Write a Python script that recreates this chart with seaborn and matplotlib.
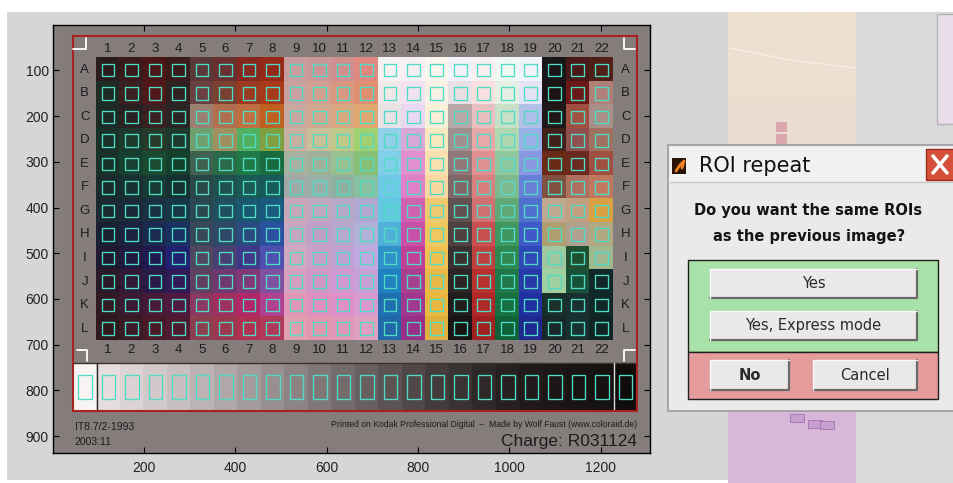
import numpy as np
import pandas as pd
import matplotlib
matplotlib.use('Agg')
import matplotlib.pyplot as plt
import matplotlib.colors as mcolors
from matplotlib.patches import Rectangle
import seaborn as sns

# ---- data -------------------------------------------------------------------
col_labels = [str(i) for i in range(1, 23)]
row_labels = list('ABCDEFGHIJKL')
x_ticks = [200, 400, 600, 800, 1000, 1200]
y_ticks = [100, 200, 300, 400, 500, 600, 700, 800, 900]

row_A = ['#2a1c1c', '#3a1a1a', '#4a1616', '#3a1a1a', '#5a3838', '#6a3030', '#862820', '#962818',
         '#c89c9c', '#c89898', '#d09090', '#e08880', '#f6f2f2', '#f6f0f4', '#faf6ee', '#f2f2f8',
         '#f8f0f0', '#f0f8f4', '#f0f4fa', '#181616', '#4a1818', '#502018']
row_B = ['#1e2a24', '#3a2020', '#501818', '#302020', '#6a4040', '#7a4030', '#9a3a20', '#a83a1a',
         '#c8a0a0', '#d0a090', '#d89880', '#e09070', '#f0e8e8', '#f0e2ee', '#f8f0e4', '#e8e0e4',
         '#f8e0e0', '#e4f0e4', '#e4e4f6', '#1c1414', '#6a1818', '#b08078']
row_C = ['#1c2a26', '#2a2222', '#3a2020', '#2a2424', '#9a8070', '#b07050', '#c07040', '#c06020',
         '#c8a8a0', '#d0a890', '#d8a880', '#e0a870', '#e8e2e4', '#e8d8f0', '#f8f0d8', '#b8a8a8',
         '#e8c0c0', '#c8e0c8', '#b0c0e8', '#201818', '#a05040', '#a89088']
row_D = ['#183028', '#1e3a2c', '#2a3a2a', '#1e3a2e', '#70a070', '#a09060', '#50b060', '#80a040',
         '#c8b0a0', '#c8c098', '#c0c888', '#a0d070', '#90d0e8', '#d8a8d8', '#f8e8c0', '#a09090',
         '#e8a8a8', '#b0d8b0', '#98b0e8', '#402018', '#905050', '#a07060']
row_E = ['#183228', '#184030', '#1a4a30', '#14402c', '#406050', '#2a6a48', '#207a48', '#1a6a40',
         '#a8b0a0', '#a0b098', '#98c090', '#88c078', '#80d0e8', '#e090d0', '#f8e0b0', '#907878',
         '#e09090', '#90c8a0', '#8898e0', '#6a2a18', '#6a2a20', '#a05040']
row_F = ['#1a2a2a', '#183030', '#183a34', '#163030', '#2a4848', '#205050', '#1a5a54', '#185a5a',
         '#a0a8a8', '#98b0a8', '#90b0a0', '#88c0a0', '#70c8e8', '#e080c8', '#f8d8a0', '#806868',
         '#d88080', '#80b890', '#6880d8', '#805040', '#b07060', '#c07860']
row_G = ['#1a2a30', '#1a2a38', '#183040', '#183848', '#2a4850', '#205060', '#1a5870', '#1a5a80',
         '#c8a8b8', '#c0a8c0', '#b8a8c8', '#b0a8d0', '#60c8e0', '#d060b0', '#f0c870', '#605050',
         '#d07070', '#60a878', '#5070d0', '#c0a890', '#c0a080', '#d8a040']
row_H = ['#1a2030', '#1a2240', '#1a2a50', '#1a3060', '#384858', '#304868', '#2a4a80', '#2a50a0',
         '#c8a8c0', '#c0a0c8', '#b8a8d0', '#b0b0d8', '#50b0d8', '#c850a8', '#f0c860', '#504040',
         '#c85050', '#409860', '#4058c8', '#b0a070', '#b0a090', '#b0a880']
row_I = ['#201a30', '#201a40', '#201a50', '#222070', '#504860', '#484070', '#403888', '#5050b0',
         '#d0a8c0', '#c8a0c8', '#c0a0d0', '#c0a8e0', '#3090c8', '#c04098', '#f0c050', '#3a3030',
         '#c04040', '#308850', '#3048b8', '#a0c8a0', '#205030', '#a0b890']
row_J = ['#2a1a28', '#301a38', '#2a1a48', '#301a58', '#604060', '#703870', '#803878', '#8050a0',
         '#d8a0c0', '#d098c8', '#d098d0', '#c8a0d8', '#2080c0', '#a84090', '#e8b848', '#2a2424',
         '#b83030', '#207848', '#2838a8', '#a0d0a0', '#185038', '#102828']
row_K = ['#301a24', '#3a1a30', '#481a38', '#501a40', '#8a3860', '#a03060', '#b02868', '#b04090',
         '#e098b8', '#e090c0', '#e090c8', '#d898d0', '#2070b0', '#a03890', '#e8b840', '#201c1c',
         '#b02828', '#187040', '#2030a0', '#183028', '#1a3030', '#102828']
row_L = ['#301a20', '#3a1a24', '#4a1a28', '#501a30', '#8a4050', '#9a3850', '#b03050', '#b03858',
         '#e0a0b0', '#e098b0', '#e098b8', '#e0a0c0', '#2068a8', '#983088', '#e0b040', '#181414',
         '#a02020', '#106038', '#202890', '#182828', '#183030', '#102424']

gray_steps = ['#f8f4f4', '#e6dede', '#dcd4d4', '#d2caca', '#c8c0c0', '#bcb4b4', '#b0a8a8', '#a49c9c',
              '#989090', '#8c8484', '#807878', '#746c6c', '#686060', '#5c5454', '#504848', '#443c3c',
              '#383232', '#2e2828', '#262020', '#201a1a', '#1c1616', '#181414', '#161212', '#100c0c']

# ---- layout of the scanned target (image pixel units) ------------------------
grid_x0, grid_y0, cell = 95, 73, 51.45
strip_x0, strip_y0, strip_y1, strip_cell = 45, 740, 845, 51.46
roi_color = '#50dcc4'

sns.set_style('ticks')
plt.rcParams['font.family'] = ['Liberation Sans', 'DejaVu Sans']

W, H = 954, 483
fig = plt.figure(figsize=(W / 100, H / 100), dpi=100)
fig.patch.set_facecolor('white')

# background of the screen capture (pixel coordinates)
bg = fig.add_axes([0, 0, 1, 1], zorder=0)
bg.add_patch(Rectangle((7, 12), W - 7, 468, fc='#d6d6d6', ec='none', zorder=0.1))
band = bg.imshow(np.array([[mcolors.to_rgb('#ecdfd0')], [mcolors.to_rgb('#e6d4d0')],
                           [mcolors.to_rgb('#d8b8d8')]]),
                 extent=(728, 856, H, 12), aspect='auto', interpolation='bilinear')
band.set_zorder(0.5)
bg.plot([730, 790, 856], [48, 60, 68], color='#f6eee6', lw=1, zorder=0.6)
bg.add_patch(Rectangle((856, 12), 98, H - 12, fc='#dadada', ec='none', zorder=0.6))
bg.add_patch(Rectangle((937, 14), 20, 110, fc='#e8dde8', ec='#b4b4b4', lw=1, zorder=0.7))
bg.add_patch(Rectangle((776, 122), 11, 10, fc='#dca8b0', ec='none', zorder=0.7))
bg.add_patch(Rectangle((776, 134), 11, 10, fc='#dca8b0', ec='none', zorder=0.7))
bg.add_patch(Rectangle((790, 414), 14, 8, fc='#c8a0d0', ec='#a070b0', lw=0.6, zorder=0.7))
bg.add_patch(Rectangle((808, 420), 14, 8, fc='#c8a0d0', ec='#a070b0', lw=0.6, zorder=0.7))
bg.add_patch(Rectangle((820, 421), 14, 8, fc='#c8a0d0', ec='#a070b0', lw=0.6, zorder=0.7))
bg.set_xlim(0, W)
bg.set_ylim(H, 0)
bg.axis('off')

# ---- MATLAB axes with the IT8 target ----------------------------------------
ax = fig.add_axes([53 / W, 1 - 453 / H, 597 / W, 428 / H], zorder=1)
ax.set_facecolor('#857c7c')

rows = [row_A, row_B, row_C, row_D, row_E, row_F, row_G, row_H, row_I, row_J, row_K, row_L]
rgb = np.array([[mcolors.to_rgb(c) for c in r] for r in rows])
ax.imshow(rgb, extent=(grid_x0, grid_x0 + 22 * cell, grid_y0 + 12 * cell, grid_y0),
          interpolation='nearest', zorder=1)

strip = np.array([[mcolors.to_rgb(c) for c in gray_steps]])
ax.imshow(strip, extent=(strip_x0, strip_x0 + 24 * strip_cell, strip_y1, strip_y0),
          interpolation='nearest', zorder=1)
ax.plot([strip_x0, strip_x0 + 24 * strip_cell], [strip_y0, strip_y0], color='#3a3030', lw=1, zorder=2)
ax.plot([strip_x0 + strip_cell] * 2, [strip_y0, strip_y1], color='#2a2424', lw=1, zorder=2)
ax.plot([strip_x0 + 23 * strip_cell] * 2, [strip_y0, strip_y1], color='#e0e0e0', lw=1, zorder=2)

# red frame of the scan
ax.add_patch(Rectangle((45, 25), 1235, 820, fc='none', ec='#a82222', lw=1.5, zorder=2))

# crop marks
mk = dict(color='white', lw=1.3, zorder=2)
ax.plot([45, 72, 72], [52, 52, 30], **mk)
ax.plot([1276, 1252, 1252], [52, 52, 30], **mk)
ax.plot([52, 74, 74], [711, 711, 736], **mk)
ax.plot([1252, 1252, 1276], [736, 711, 711], **mk)

# ROI markers on the patches
roi = pd.DataFrame([(grid_x0 + (j + 0.5) * cell, grid_y0 + (i + 0.5) * cell)
                    for i in range(len(row_labels)) for j in range(len(col_labels))],
                   columns=['x', 'y'])
sns.scatterplot(data=roi, x='x', y='y', marker='s', s=82, facecolor='none',
                edgecolor=roi_color, linewidth=0.95, ax=ax, zorder=3)
for k in range(len(gray_steps)):
    cx = strip_x0 + (k + 0.5) * strip_cell
    ax.add_patch(Rectangle((cx - 14.5, 766), 29, 53, fc='none', ec=roi_color, lw=0.95, zorder=3))

# chart annotations
lab = dict(fontsize=9.5, color='#1c1c1c', ha='center', va='center', zorder=3)
for j, t in enumerate(col_labels):
    cx = grid_x0 + (j + 0.5) * cell
    ax.text(cx, 52, t, **lab)
    ax.text(cx, 711, t, **lab)
for i, t in enumerate(row_labels):
    cy = grid_y0 + (i + 0.5) * cell
    ax.text(70, cy, t, **lab)
    ax.text(1255, cy, t, **lab)

ax.text(48, 880, 'IT8.7/2-1993', fontsize=7.5, color='#1c1c1c', va='center', zorder=3)
ax.text(48, 912, '2003:11', fontsize=7.5, color='#1c1c1c', va='center', zorder=3)
ax.text(1280, 875, 'Printed on Kodak Professional Digital  \u2013  Made by Wolf Faust (www.coloraid.de)',
        fontsize=6.2, color='#1c1c1c', ha='right', va='center', zorder=3)
ax.text(1280, 912, 'Charge: R031124', fontsize=12.5, color='#1c1c1c', ha='right', va='center', zorder=3)

ax.set_xlim(0.5, 1308)
ax.set_ylim(937, 0.5)
ax.set_aspect('auto')
ax.set_xticks(x_ticks)
ax.set_yticks(y_ticks)
ax.set_xlabel('')
ax.set_ylabel('')
ax.tick_params(direction='in', length=4, width=0.8, top=True, right=True,
               labelsize=10, labelcolor='#222222', color='black')
ax.tick_params(axis='x', pad=6)
ax.tick_params(axis='y', pad=3)
for s in ax.spines.values():
    s.set_visible(True)
    s.set_color('black')
    s.set_linewidth(1)

# ---- "ROI repeat" dialog (pixel coordinates) ---------------------------------
ov = fig.add_axes([0, 0, 1, 1], zorder=2)
ov.set_xlim(0, W)
ov.set_ylim(H, 0)
ov.axis('off')
ov.patch.set_alpha(0)

ov.add_patch(Rectangle((668, 145), 290, 266, fc='#ebe9e9', ec='#9a9aa0', lw=1.2))
ov.add_patch(Rectangle((670, 147), 290, 35, fc='#f2f1f1', ec='none'))
ov.plot([670, 954], [182, 182], color='#c8c8c8', lw=1)
ov.add_patch(Rectangle((672, 158), 14, 16, fc='#2a1408', ec='none'))
ov.plot([676, 680, 684, 682], [171, 165, 161, 168], color='#f08020', lw=2)
ov.text(699, 166, 'ROI repeat', fontsize=15, family='DejaVu Sans', color='#111111', va='center')
ov.add_patch(Rectangle((926, 149), 32, 31, fc='#d4503a', ec='#9a2a1a', lw=1))
ov.plot([933, 947], [156, 173], color='white', lw=2.5)
ov.plot([933, 947], [173, 156], color='white', lw=2.5)

dtxt = dict(fontsize=10.5, family='DejaVu Sans', weight='bold', color='#141414', ha='center', va='center')
ov.text(808, 210, 'Do you want the same ROIs', **dtxt)
ov.text(809, 237, 'as the previous image?', **dtxt)

ov.add_patch(Rectangle((688, 260), 250, 92, fc='#a8e2a8', ec='#202020', lw=1))
ov.add_patch(Rectangle((688, 352), 250, 47, fc='#e49c9c', ec='#202020', lw=1))


def button(x0, y0, x1, y1, label, bold=False):
    ov.add_patch(Rectangle((x0, y0), x1 - x0, y1 - y0, fc='#ebe8e8', ec='none'))
    ov.plot([x0, x1, x1], [y1, y1, y0], color='#6a6a6a', lw=1.6)
    ov.plot([x0, x0, x1], [y1, y0, y0], color='#fafafa', lw=1)
    ov.text((x0 + x1) / 2, (y0 + y1) / 2, label, fontsize=10.5, family='DejaVu Sans',
            weight='bold' if bold else 'normal', color='#2a2a2a', ha='center', va='center')


button(710, 269, 917, 298, 'Yes')
button(710, 311, 917, 340, 'Yes, Express mode')
button(710, 360, 789, 390, 'No', bold=True)
button(813, 360, 917, 390, 'Cancel')

fig.savefig('out.png', dpi=100)
